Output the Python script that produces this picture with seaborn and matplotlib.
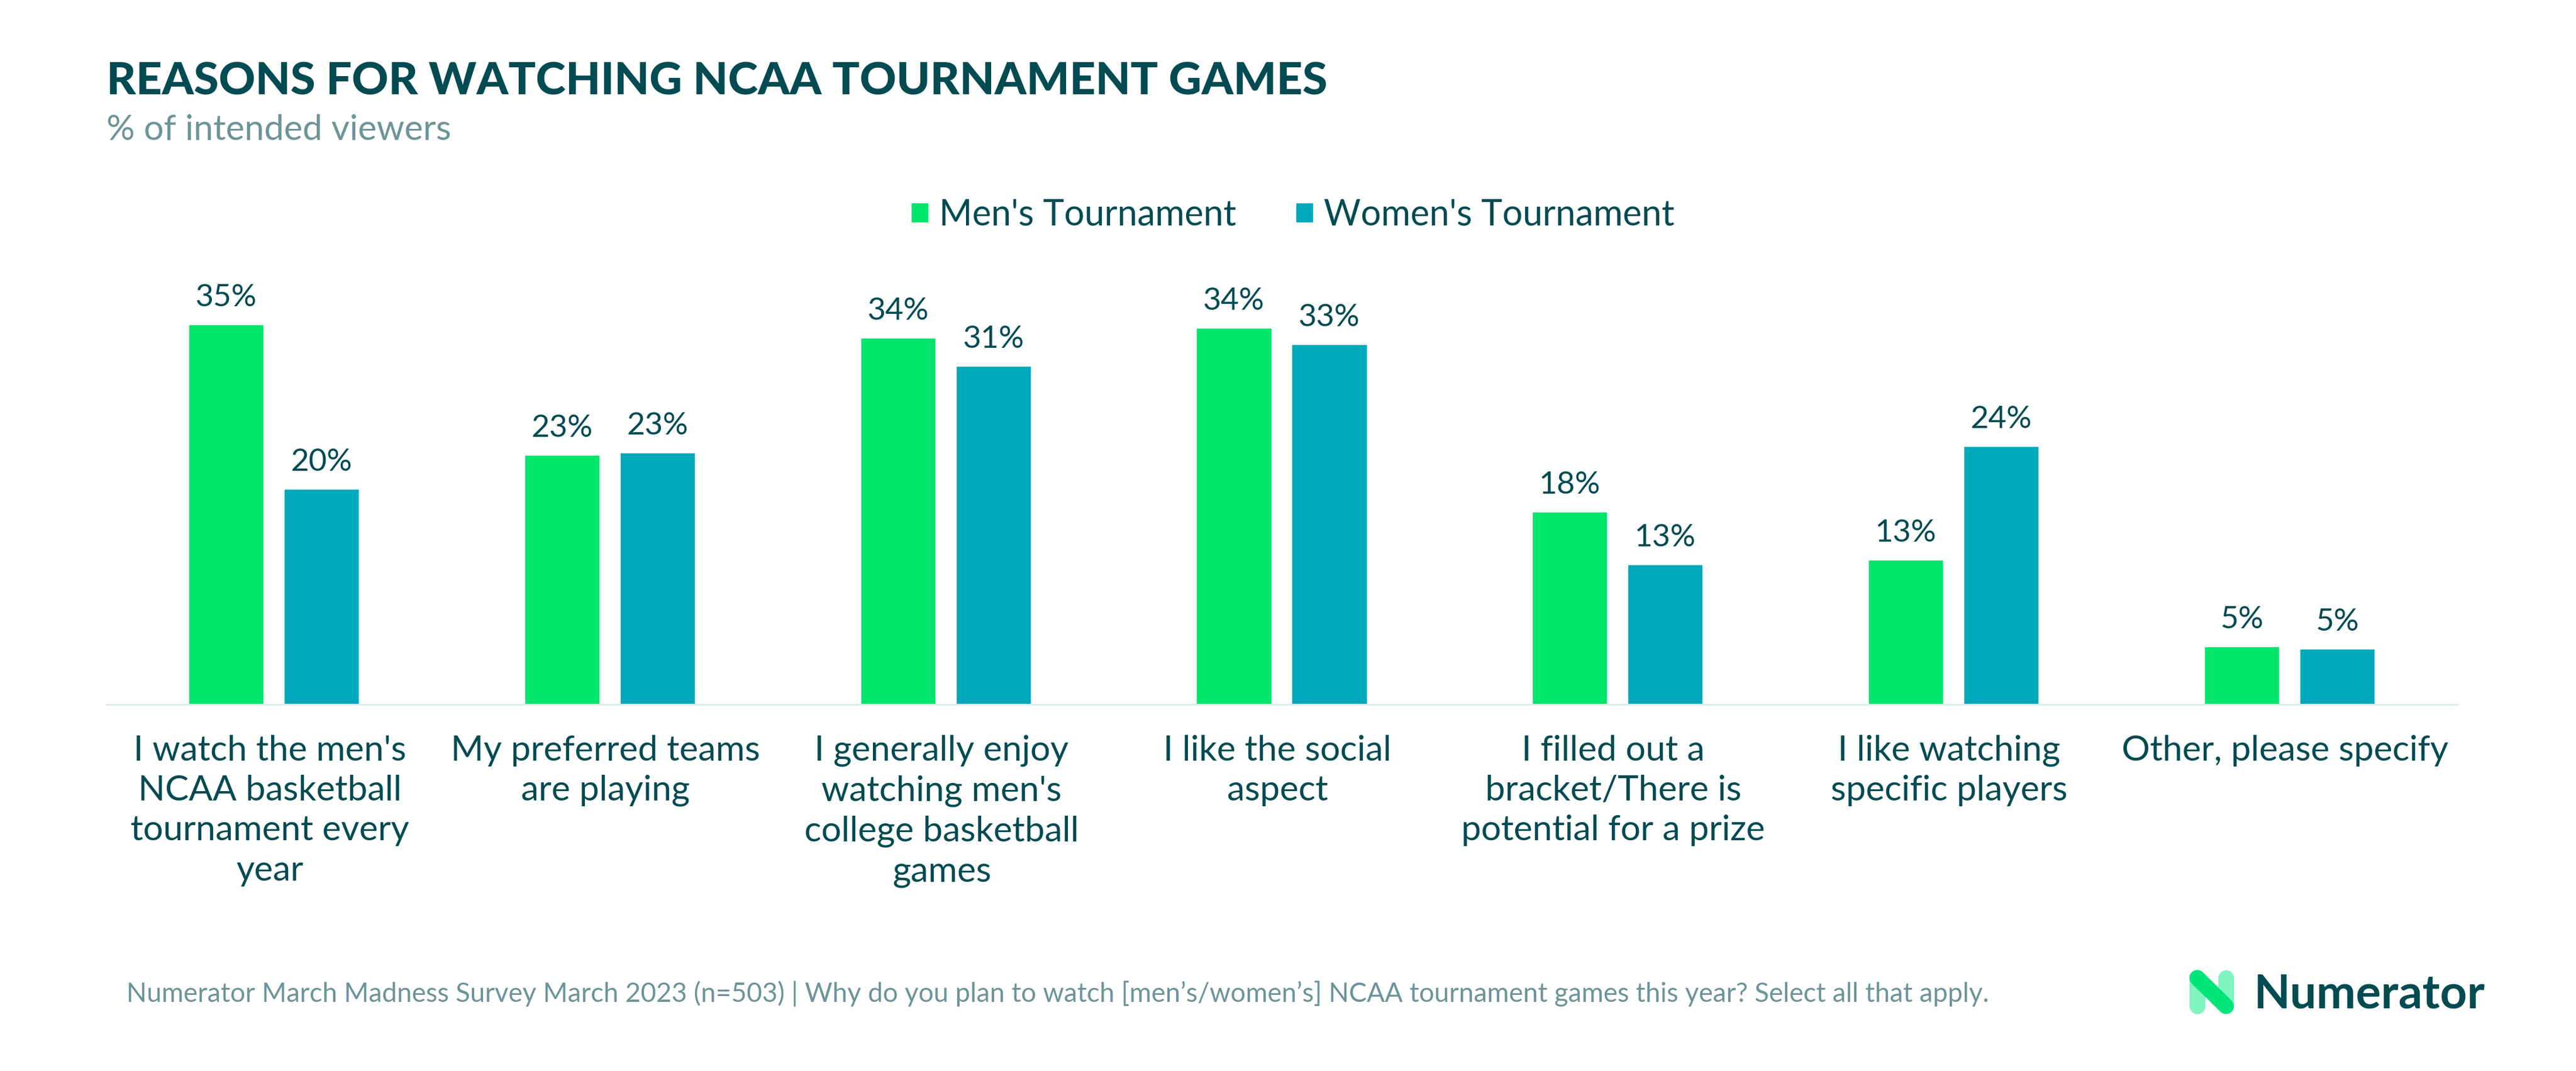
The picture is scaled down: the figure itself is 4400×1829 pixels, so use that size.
import matplotlib.pyplot as plt
from matplotlib.lines import Line2D
from matplotlib.transforms import ScaledTranslation
import pandas as pd
import seaborn as sns

# chart values
categories = [
    "I watch the men's\nNCAA basketball\ntournament every\nyear",
    "My preferred teams\nare playing",
    "I generally enjoy\nwatching men's\ncollege basketball\ngames",
    "I like the social\naspect",
    "I filled out a\nbracket/There is\npotential for a prize",
    "I like watching\nspecific players",
    "Other, please specify",
]
mens = [34.7, 22.8, 33.5, 34.4, 17.6, 13.2, 5.3]
womens = [19.7, 23.0, 30.9, 32.9, 12.8, 23.6, 5.1]
series_names = ["Men's Tournament", "Women's Tournament"]

title = "REASONS FOR WATCHING NCAA TOURNAMENT GAMES"
subtitle = "% of intended viewers"
footer = ("Numerator March Madness Survey March 2023 (n=503) | Why do you plan to watch "
          "[men\u2019s/women\u2019s] NCAA tournament games this year? Select all that apply.")

GREEN = "#00E56A"
TEAL = "#00A8BC"
DARK = "#024B52"
MUTED = "#6C9498"
RULE = "#DFEBEB"

W, H = 4400, 1829

sns.set_theme(style="white")
plt.rcParams["font.family"] = ["Lato", "DejaVu Sans"]

df = pd.DataFrame({
    "reason": categories * 2,
    "pct": mens + womens,
    "tournament": [series_names[0]] * len(mens) + [series_names[1]] * len(womens),
})

fig = plt.figure(figsize=(W / 100, H / 100), dpi=100, facecolor="white")
ax = fig.add_axes([181 / W, 1 - 1203.3 / H, (4197 - 181) / W, 748 / H])

sns.barplot(data=df, x="reason", y="pct", hue="tournament",
            palette=[GREEN, TEAL], width=0.5684, gap=0.2146, saturation=1, ax=ax)
ax.set_xlim(-0.5, len(categories) - 0.5)
ax.set_ylim(0, 40)
ax.set_xlabel("")
ax.set_ylabel("")
ax.set_yticks([])
ax.tick_params(axis="x", length=0, pad=37, labelsize=43.5, labelcolor=DARK)
# the labels sit a little left of the bar groups in the original
label_shift = ScaledTranslation(-7 / 100, 0, fig.dpi_scale_trans)
for label in ax.get_xticklabels():
    label.set_linespacing(1.325)
    label.set_transform(label.get_transform() + label_shift)

sns.despine(ax=ax, left=True)
ax.spines["bottom"].set_color(RULE)
ax.spines["bottom"].set_linewidth(2.16)

for container in ax.containers:
    ax.bar_label(container, fmt="%.0f%%", padding=16, fontsize=38.5, color=DARK)

sns.move_legend(ax, "center", bbox_to_anchor=((2208 - 181) / (4197 - 181), 1 + (1203.3 - 367 - 748) / 748),
                ncol=2, title=None, frameon=False, fontsize=44, labelcolor=DARK,
                handlelength=0.5, handleheight=0.48, handletextpad=0.29, columnspacing=1.65)

fig.text(182 / W, 1 - 162 / H, title, fontsize=55.7, fontweight=900, color=DARK, va="baseline")
fig.text(182 / W, 1 - 239 / H, subtitle, fontsize=43.4, color=MUTED, va="baseline")
fig.text(216 / W, 1 - 1711 / H, footer, fontsize=32.8, color=MUTED, va="baseline")

# logo, drawn in pixel space
logo = fig.add_axes([0, 0, 1, 1], facecolor="none")
logo.set_xlim(0, W)
logo.set_ylim(H, 0)
logo.axis("off")
stroke = 27 * 0.72
for xs, ys, col in [
    ([3753, 3753], [1670, 1718], "#80F5C0"),
    ([3802, 3802], [1670, 1718], "#80F5C0"),
    ([3753, 3753], [1718, 1718], "#00DF6C"),
    ([3802, 3802], [1670, 1670], "#00F0B0"),
    ([3753, 3802], [1670, 1718], "#00E57A"),
]:
    logo.add_line(Line2D(xs, ys, color=col, lw=stroke, solid_capstyle="round"))
logo.text(3850, 1722, "Numerator", fontsize=58, fontweight="bold", color=DARK, va="baseline")

fig.savefig("out.png", dpi=100, facecolor="white")
